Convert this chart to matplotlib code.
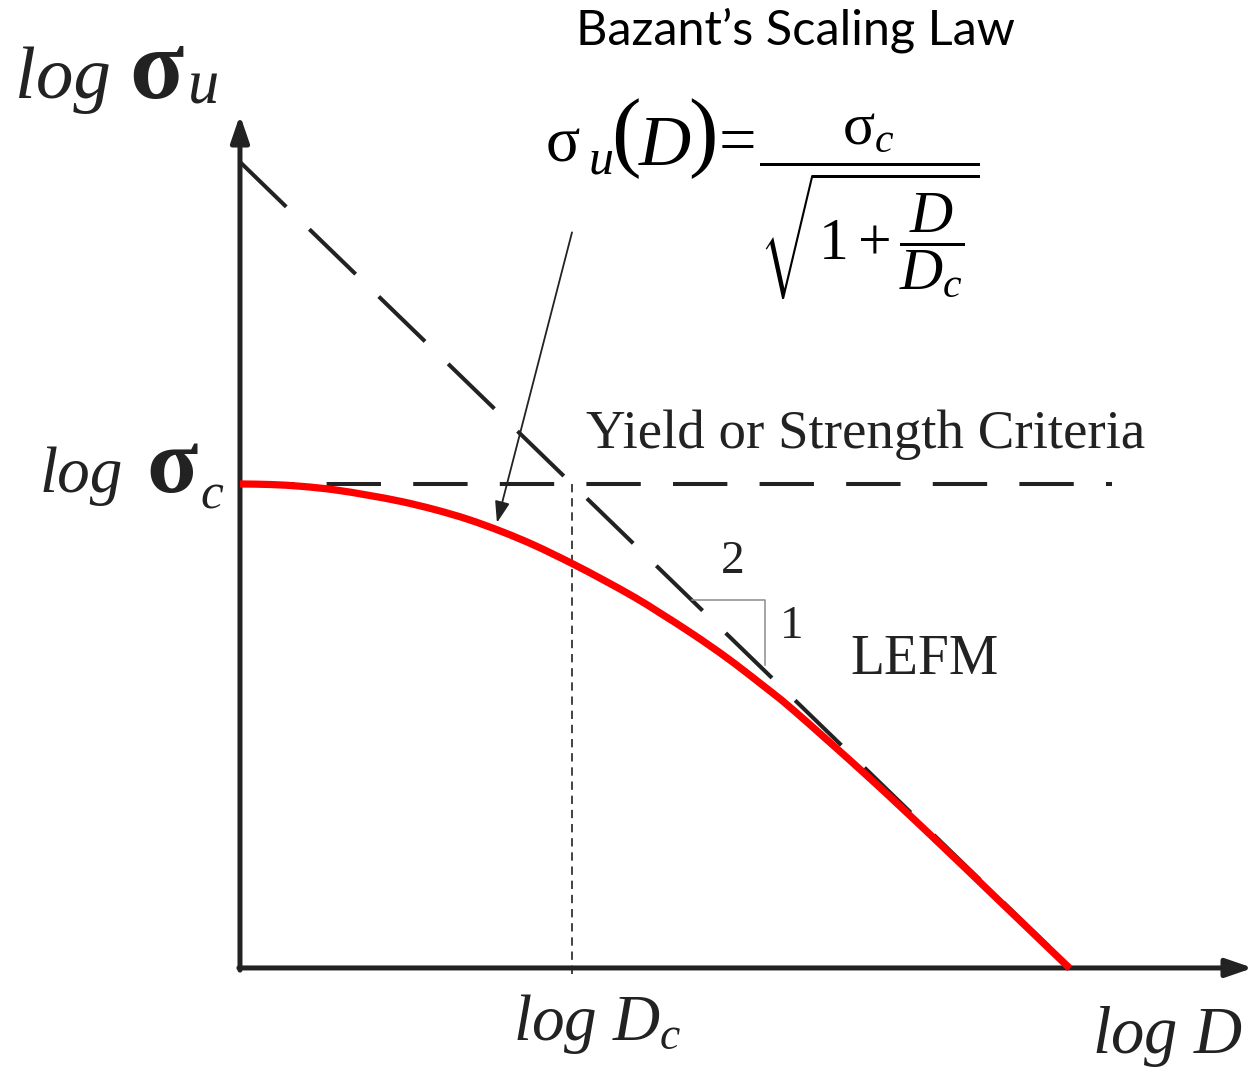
import numpy as np
import matplotlib
matplotlib.use("Agg")
import matplotlib.pyplot as plt
from matplotlib.path import Path
from matplotlib.patches import PathPatch

plt.rcParams['mathtext.fontset'] = 'custom'
plt.rcParams['mathtext.rm'] = 'Liberation Serif'
plt.rcParams['mathtext.it'] = 'Liberation Serif:italic'
plt.rcParams['mathtext.bf'] = 'Liberation Serif:bold'
plt.rcParams['mathtext.sf'] = 'Liberation Serif'

# Normalised log coordinates: x = log(D / Dc), y = log(sigma_u / sigma_c)
log_D = [-1.203, -1.094, -0.978, -0.859, -0.739, -0.616, -0.496, -0.377,
         -0.254, -0.134, 0.0, 0.109, 0.228, 0.319, 0.438, 0.562, 0.681,
         0.801, 1.069, 1.308, 1.551, 1.804]
log_sigma_u = [0.0, -0.001, -0.0045, -0.011, -0.021, -0.033, -0.048, -0.066,
               -0.089, -0.115, -0.1485, -0.178, -0.212, -0.241, -0.2805,
               -0.325, -0.372, -0.422, -0.545, -0.660, -0.780, -0.905]

log_Dc = 0.0
log_sigma_c = 0.0
lefm_slope = -0.5            # slope of the LEFM asymptote (1 : 2)
x_origin, y_origin = -1.203, -0.904
x_arrow_tip, y_arrow_tip = 2.467, 0.689
x_yield_end = 1.957
x_lefm_end = 1.76
x_tri = [0.435, 0.70]         # horizontal extent of the slope triangle

INK = '#222222'
W, H = 1255, 1067


def lefm(x):
    return log_sigma_c + lefm_slope * (np.asarray(x) - log_Dc)


def fpos(px, py):
    """Figure-fraction position from pixel offsets (origin top-left)."""
    return px / W, 1 - py / H


def smooth_path(xs, ys):
    """Catmull-Rom spline through the given vertices, as cubic Bezier path."""
    p = np.column_stack([xs, ys]).astype(float)
    ext = np.vstack([2 * p[0] - p[1], p, 2 * p[-1] - p[-2]])
    verts = [p[0]]
    codes = [Path.MOVETO]
    for i in range(1, len(ext) - 2):
        c1 = ext[i] + (ext[i + 1] - ext[i - 1]) / 6.0
        c2 = ext[i + 1] - (ext[i + 2] - ext[i]) / 6.0
        verts += [c1, c2, ext[i + 1]]
        codes += [Path.CURVE4] * 3
    return Path(verts, codes)


fig = plt.figure(figsize=(W / 100, H / 100), dpi=100)
ax = fig.add_axes([0, 0, 1, 1])
ax.set_xlim(-2.0725, 2.4746)
ax.set_ylim(-1.089, 0.904)
ax.axis('off')

# coordinate axes with arrow heads
arrow_style = dict(arrowstyle='-|>,head_length=1.6,head_width=0.55',
                   lw=3.6, color=INK, shrinkA=0, shrinkB=0)
ax.annotate('', xy=(x_origin, y_arrow_tip), xytext=(x_origin, y_origin - 0.004),
            arrowprops=arrow_style)
ax.annotate('', xy=(x_arrow_tip, y_origin), xytext=(x_origin - 0.004, y_origin),
            arrowprops=arrow_style)

# strength criterion (horizontal) and LEFM asymptote (slope -1/2)
ax.plot([x_origin, x_yield_end], [log_sigma_c, log_sigma_c], color=INK, lw=2.9,
        dashes=(13.5, 8), dash_capstyle='butt')
xa = np.array([x_origin, x_lefm_end])
ax.plot(xa, lefm(xa), color=INK, lw=2.9, dashes=(16, 8), dash_capstyle='butt')

# dotted guide at log Dc
ax.plot([log_Dc, log_Dc], [log_sigma_c, y_origin - 0.017], color=INK, lw=1.2,
        dashes=(5, 3.5))

# size effect curve
ax.add_patch(PathPatch(smooth_path(log_D, log_sigma_u), facecolor='none',
                       edgecolor='#ff0000', lw=5.2, capstyle='butt',
                       joinstyle='round', zorder=5))

# slope triangle 2 : 1
ax.plot([x_tri[0], x_tri[1], x_tri[1]],
        [lefm(x_tri[0]), lefm(x_tri[0]), lefm(x_tri[1]) + 0.012],
        color='#8c8c8c', lw=1.1)

serif = 'Liberation Serif'
fig.text(*fpos(733, 562), '2', fontsize=34, family=serif, ha='center',
         va='center', color=INK)
fig.text(*fpos(792, 627), '1', fontsize=34, family=serif, ha='center',
         va='center', color=INK)
fig.text(*fpos(925, 660), 'LEFM', fontsize=40, family=serif, ha='center',
         va='center', color=INK)
fig.text(*fpos(866, 435), 'Yield or Strength Criteria', fontsize=39.5,
         family=serif, ha='center', va='center', color=INK)

# pointer from the formula to the curve
ax.annotate('', xy=(-0.272, -0.0725), xytext=(0.0, 0.47),
            arrowprops=dict(arrowstyle='-|>,head_length=1.3,head_width=0.45',
                            lw=1.3, color=INK, shrinkA=0, shrinkB=0))

# axis labels
fig.text(*fpos(15, 98), 'log', fontsize=54, family=serif, style='italic',
         ha='left', va='baseline', color=INK)
fig.text(*fpos(129, 98), 'σ', fontsize=72, family=serif, weight='bold',
         ha='left', va='baseline', color=INK)
fig.text(*fpos(188, 104), 'u', fontsize=45, family=serif, style='italic',
         ha='left', va='baseline', color=INK)

fig.text(*fpos(40, 492), 'log', fontsize=47, family=serif, style='italic',
         ha='left', va='baseline', color=INK)
fig.text(*fpos(146, 492), 'σ', fontsize=68, family=serif, weight='bold',
         ha='left', va='baseline', color=INK)
fig.text(*fpos(200, 508), 'c', fontsize=37, family=serif, style='italic',
         ha='left', va='baseline', color=INK)

fig.text(*fpos(513, 1040), r'$log\ D_c$', fontsize=47, ha='left',
         va='baseline', color=INK)
fig.text(*fpos(1092, 1053), r'$log\ D$', fontsize=48, ha='left',
         va='baseline', color=INK)

# formula sigma_u(D) = sigma_c / sqrt(1 + D/Dc)
fig.text(*fpos(546, 162), 'σ', fontsize=46, family=serif, ha='left',
         va='baseline', color='black')
fig.text(*fpos(589, 174), 'u', fontsize=36, family=serif, style='italic',
         ha='left', va='baseline', color='black')
fig.text(*fpos(626, 139), '(', fontsize=64, family=serif, ha='center',
         va='center', color='black')
fig.text(*fpos(665, 165), 'D', fontsize=52, family=serif, style='italic',
         ha='center', va='baseline', color='black')
fig.text(*fpos(703, 139), ')', fontsize=64, family=serif, ha='center',
         va='center', color='black')
fig.text(*fpos(737, 146), '=', fontsize=48, family=serif, ha='center',
         va='center', color='black')
fig.text(*fpos(869, 207),
         r'$\dfrac{\mathrm{\sigma}_c}{\sqrt{1+\dfrac{D}{D_c}}}$',
         fontsize=43, ha='center', va='center', color='black')

fig.text(*fpos(795, 30), 'Bazant’s Scaling Law', fontsize=35, family='Lato',
         ha='center', va='center', color='black')

fig.savefig('out.png', dpi=100, facecolor='white')
